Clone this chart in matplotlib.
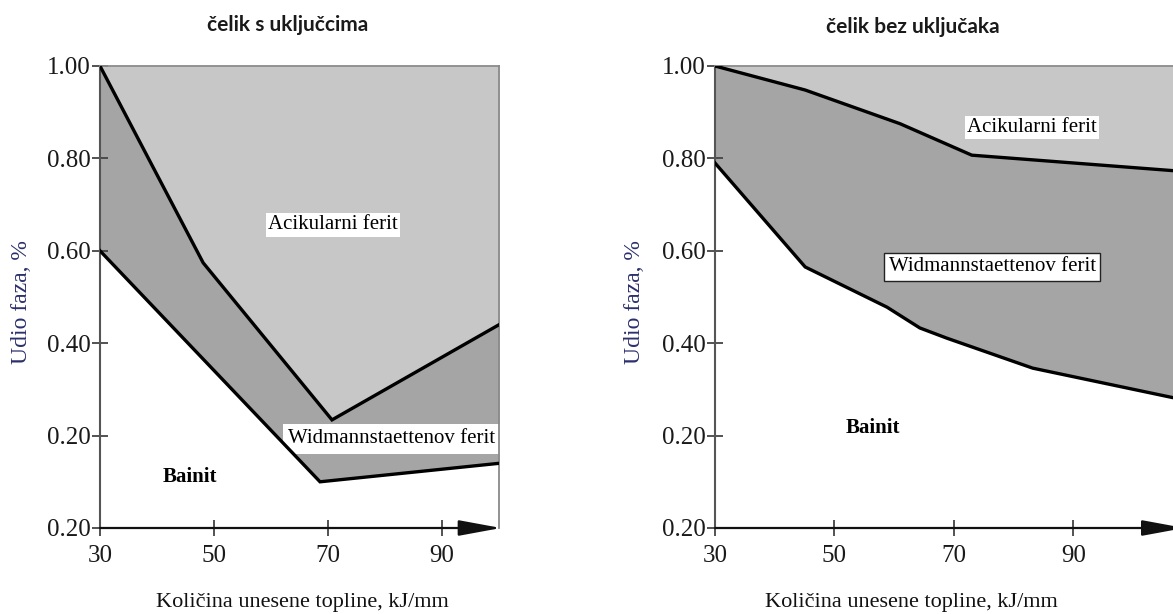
import numpy as np
import matplotlib
matplotlib.use("Agg")
import matplotlib.pyplot as plt
from matplotlib.patches import FancyArrowPatch

# ===> data
# left panel: celik s ukljuccima
x_upper_l = [30, 48.1, 70.7, 100]
y_upper_l = [1.00, 0.574, 0.234, 0.44]
x_lower_l = [30, 68.6, 100]
y_lower_l = [0.60, 0.10, 0.14]

# right panel: celik bez ukljucaka
x_upper_r = [30, 45.1, 61.0, 73.0, 108.2]
y_upper_r = [1.00, 0.948, 0.875, 0.807, 0.772]
x_lower_r = [30, 45.1, 58.8, 64.3, 68.8, 83.2, 108.2]
y_lower_r = [0.79, 0.565, 0.478, 0.433, 0.411, 0.346, 0.278]

y_ticks = [0.0, 0.2, 0.4, 0.6, 0.8, 1.0]
y_ticklabels = ['0.20', '0.20', '0.40', '0.60', '0.80', '1.00']
x_ticks = [30, 50, 70, 90]
x_ticklabels = ['30', '50', '70', '90']

titles = ['čelik s uključcima', 'čelik bez uključaka']
ylab = 'Udio faza, %'
xlab = 'Količina unesene topline, kJ/mm'

c_acik = '#c7c7c7'
c_widm = '#a5a5a5'
serif = 'Liberation Serif'

fig = plt.figure(figsize=(11.73, 6.14), dpi=100)
axL = fig.add_axes([100/1173, 86/614, 399/1173, 462/614])
axR = fig.add_axes([715/1173, 86/614, 467/1173, 462/614])


def setup(ax, xmax):
    ax.set_xlim(30, xmax)
    ax.set_ylim(0, 1.0)
    ax.set_yticks(y_ticks)
    ax.set_yticklabels(y_ticklabels)
    ax.set_xticks(x_ticks)
    ax.set_xticklabels(x_ticklabels)
    for lab in ax.get_xticklabels() + ax.get_yticklabels():
        lab.set_fontfamily(serif)
        lab.set_fontsize(18)
        lab.set_color('#1a1a1a')
    ax.tick_params(axis='both', direction='inout', length=11, width=1.3, color='#444444')
    ax.tick_params(axis='x', pad=7)
    ax.tick_params(axis='y', pad=1)
    ax.spines['left'].set_color('#555555')
    ax.spines['left'].set_linewidth(1.5)
    ax.spines['top'].set_color('#8a8a8a')
    ax.spines['top'].set_linewidth(1.3)
    ax.spines['right'].set_color('#8a8a8a')
    ax.spines['right'].set_linewidth(1.3)
    ax.spines['bottom'].set_visible(False)
    # x axis with arrow head
    arr = FancyArrowPatch((0, 0), (1.005, 0), transform=ax.transAxes,
                          arrowstyle='-|>,head_length=1.3,head_width=0.24',
                          mutation_scale=20, color='#111111', lw=1.6,
                          clip_on=False, zorder=5, shrinkA=0, shrinkB=0)
    ax.add_patch(arr)
    ax.set_ylabel(ylab, fontfamily=serif, fontsize=17, color='#2b2f6b')
    ax.set_xlabel(xlab, fontfamily=serif, fontsize=16, color='#111111', va='top')


def draw(ax, xu, yu, xl, yl, xmax):
    xs = np.union1d(xu, xl)
    yu_i = np.interp(xs, xu, yu)
    yl_i = np.interp(xs, xl, yl)
    ax.fill_between(xs, yu_i, 1.0, color=c_acik, lw=0, zorder=1)
    ax.fill_between(xs, yl_i, yu_i, color=c_widm, lw=0, zorder=1)
    ax.plot(xu, yu, color='black', lw=2.4, zorder=3, solid_joinstyle='miter')
    ax.plot(xl, yl, color='black', lw=2.4, zorder=3, solid_joinstyle='miter')
    setup(ax, xmax)


draw(axL, x_upper_l, y_upper_l, x_lower_l, y_lower_l, 100)
draw(axR, x_upper_r, y_upper_r, x_lower_r, y_lower_r, 108.2)

axL.yaxis.set_label_coords(-0.17, 0.49)
axR.yaxis.set_label_coords(-0.15, 0.49)
axL.xaxis.set_label_coords(0.506, -0.14)
axR.xaxis.set_label_coords(0.42, -0.14)

lab_kw = dict(fontfamily=serif, fontsize=15, ha='center', va='center', zorder=2)
axL.text(70.9, 0.656, 'Acikularni ferit',
         bbox=dict(facecolor='white', edgecolor='none', pad=1.5), **lab_kw)
axL.text(81.2, 0.193, 'Widmannstaettenov ferit',
         bbox=dict(facecolor='white', edgecolor='none', pad=4), **lab_kw)
axL.text(45.8, 0.11, 'Bainit', fontweight='bold', **lab_kw)

axR.text(83.1, 0.866, 'Acikularni ferit',
         bbox=dict(facecolor='white', edgecolor='none', pad=1.5), **lab_kw)
axR.text(76.4, 0.565, 'Widmannstaettenov ferit',
         bbox=dict(facecolor='white', edgecolor='#222222', lw=1, pad=3), **lab_kw)
axR.text(56.4, 0.216, 'Bainit', fontweight='bold', **lab_kw)

fig.text(288/1173, 1 - 25/614, titles[0], fontfamily='Lato', fontweight='bold',
         fontsize=15, ha='center', va='center', color='#1a1a1a')
fig.text(913/1173, 1 - 27/614, titles[1], fontfamily='Lato', fontweight='bold',
         fontsize=15, ha='center', va='center', color='#1a1a1a')

fig.savefig('out.png', dpi=100)
